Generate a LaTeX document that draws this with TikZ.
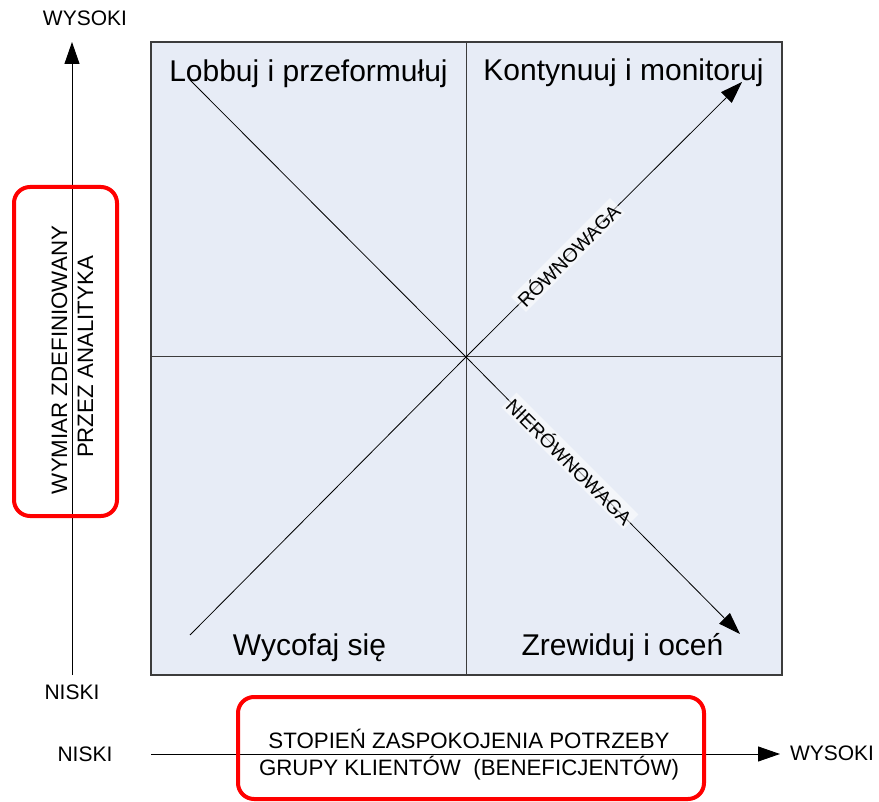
\documentclass[tikz,border=0pt]{standalone}
\usepackage{fontspec}
\setmainfont{Liberation Sans}
\usetikzlibrary{arrows.meta}
\definecolor{qfill}{RGB}{231,236,246}
\definecolor{qborder}{RGB}{60,60,60}
\begin{document}
\begin{tikzpicture}[x=1pt,y=-1pt,
  quad/.style={font=\fontsize{30}{36}\selectfont, anchor=base, inner sep=0pt},
  axlbl/.style={font=\fontsize{21}{25}\selectfont, anchor=base, inner sep=0pt},
  boxlbl/.style={font=\fontsize{22.3}{27}\selectfont, anchor=base, inner sep=0pt},
  diaglbl/.style={font=\fontsize{19.5}{22}\selectfont, fill=white, fill opacity=0.55, text opacity=1, inner sep=2pt},
  redbox/.style={draw=red, line width=4pt, rounded corners=16pt},
  arr/.style={-{Triangle[length=22pt,width=15pt]}},
  ]
\useasboundingbox (0,0) rectangle (879,802);
% quadrant frame
\draw[fill=qfill, draw=qborder, line width=1.5pt] (151,42) rectangle (782,675);
\draw[qborder, line width=1pt] (466,42) -- (466,675);
\draw[qborder, line width=1pt] (151,357) -- (782,357);
% diagonals
\coordinate (C) at (466,357);
\coordinate (TL) at (190,80);
\coordinate (BL) at (190,635);
\coordinate (TR) at (742,82);
\coordinate (BR) at (740,634);
\draw[line width=0.8pt] (TL) -- (C);
\draw[line width=0.8pt] (BL) -- (C);
\draw[line width=0.8pt, arr] (C) -- (TR);
\draw[line width=0.8pt, arr] (C) -- (BR);
\node[diaglbl, rotate=45] (rown) at (568,255) {RÓWNOWAGA};
\node[diaglbl, rotate=-45] (nierown) at (570,461) {NIERÓWNOWAGA};
% quadrant labels
\node[quad] (q1) at (308.5,82) {Lobbuj i przeformułuj};
\node[quad] (q2) at (623.5,81) {Kontynuuj i monitoruj};
\node[quad] (q3) at (309.5,655) {Wycofaj się};
\node[quad] (q4) at (622.5,655) {Zrewiduj i oceń};
% axes
\coordinate (ya0) at (72,675);
\coordinate (ya1) at (72,42);
\draw[line width=1pt, arr] (ya0) -- (ya1);
\coordinate (xa0) at (151,754);
\coordinate (xa1) at (780,754);
\draw[line width=1pt, arr] (xa0) -- (xa1);
\node[axlbl] (yhi) at (85,26) {WYSOKI};
\node[axlbl] (ylo) at (72,699) {NISKI};
\node[axlbl] (xlo) at (85,761) {NISKI};
\node[axlbl] (xhi) at (832,760) {WYSOKI};
% red boxes
\draw[redbox] (14,187) rectangle (117,516);
\draw[redbox] (238,697) rectangle (704,799);
\node[boxlbl, rotate=90] (yl1) at (67,360) {WYMIAR ZDEFINIOWANY};
\node[boxlbl, rotate=90] (yl2) at (93,357) {PRZEZ ANALITYKA};
\node[boxlbl] (xl1) at (469,748) {STOPIEŃ ZASPOKOJENIA POTRZEBY};
\node[boxlbl] (xl2) at (469,775) {GRUPY KLIENTÓW\ \ (BENEFICJENTÓW)};
\end{tikzpicture}
\end{document}
